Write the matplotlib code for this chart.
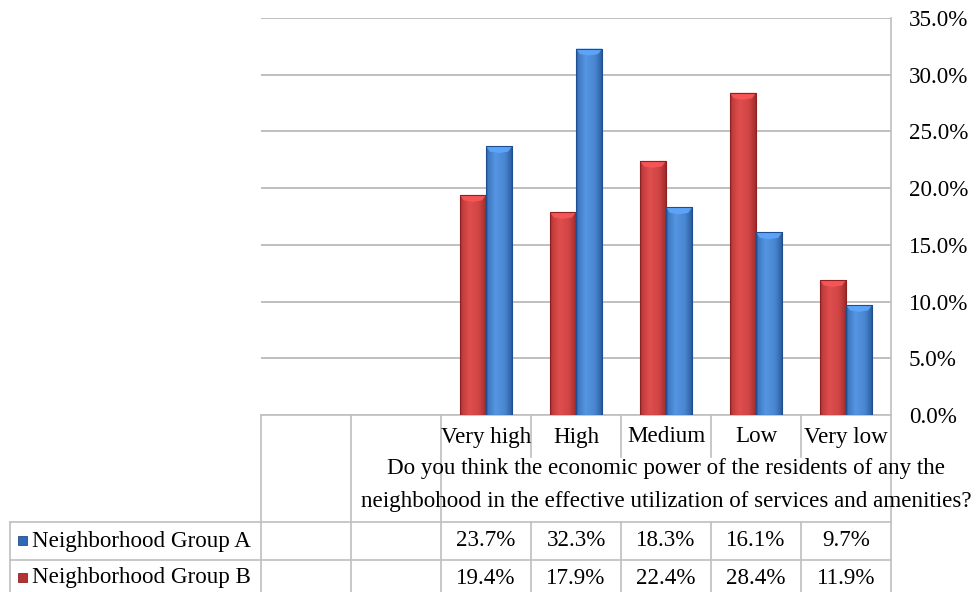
import numpy as np
import matplotlib
matplotlib.use("Agg")
import matplotlib.pyplot as plt
from matplotlib.transforms import blended_transform_factory
from matplotlib.patches import Polygon, Rectangle
from matplotlib.colors import to_rgb

# ---------------- data ----------------
categories = ["", "", "Very high", "High", "Medium", "Low", "Very low"]
group_a = [None, None, 23.7, 32.3, 18.3, 16.1, 9.7]
group_b = [None, None, 19.4, 17.9, 22.4, 28.4, 11.9]
series_names = ["Neighborhood Group A", "Neighborhood Group B"]
axis_title = ("Do you think the economic power of the residents of any the\n"
              "neighbohood in the effective utilization of services and amenities?")
y_ticks = [0, 5, 10, 15, 20, 25, 30, 35]

# ---------------- style ----------------
FONT = "Liberation Serif"
FS = 16.6
GRID = "#BFBFBF"
BLUE = ("#1F4E8E", "#5595E2", "#2F69B5")   # edge, light, mid
RED = ("#8E2222", "#E04E4E", "#B53232")

W, H = 976, 592
fig = plt.figure(figsize=(W / 100, H / 100), dpi=100)

# plot area (pixel layout)
px_left, px_right, px_top, px_bottom = 261, 891, 18, 415
ax = fig.add_axes([px_left / W, 1 - px_bottom / H,
                   (px_right - px_left) / W, (px_bottom - px_top) / H])
n = len(categories)
ax.set_xlim(0, n)
ax.set_ylim(0, 35)
for s in ["left", "top", "bottom"]:
    ax.spines[s].set_visible(False)
ax.spines["right"].set_color(GRID)
ax.spines["right"].set_linewidth(1.2)
ax.set_xticks([])
ax.yaxis.tick_right()
ax.set_yticks(y_ticks)
ax.set_yticklabels([f"{v:.1f}%" for v in y_ticks], fontfamily=FONT, fontsize=FS)
ax.tick_params(axis="y", length=0, pad=13)
ax.grid(axis="y", color=GRID, linewidth=1.4)
ax.set_axisbelow(True)

bw = 0.29


def gradient_bar(x0, h, cols):
    edge, light, mid = [np.array(to_rgb(c)) for c in cols]
    bars = ax.bar(x0, h, width=bw, align="edge", color=mid, edgecolor="none", zorder=3)
    patch = bars[0]
    # horizontal cylinder profile
    t = np.linspace(0, 1, 64)
    prof = np.interp(t, [0, 0.08, 0.35, 0.7, 0.92, 1.0], [0.15, 0.6, 1.0, 0.8, 0.35, 0.0])
    img = edge[None, :] + (light - edge)[None, :] * prof[:, None]
    img = img[None, :, :]
    im = ax.imshow(img, extent=[x0, x0 + bw, 0, h], aspect="auto",
                   interpolation="bilinear", zorder=4)
    im.set_clip_path(patch)
    # top bevel highlight
    d = 0.6
    top = Polygon([[x0, h], [x0 + bw, h], [x0 + bw * 0.85, h - d * 0.8],
                   [x0 + bw * 0.5, h - d], [x0 + bw * 0.15, h - d * 0.8]],
                  closed=True, facecolor=np.clip(light * 1.12, 0, 1),
                  edgecolor="none", alpha=0.9, zorder=5)
    ax.add_patch(top)
    ax.add_patch(Rectangle((x0, 0), bw, h, fill=False, edgecolor=edge,
                           linewidth=0.8, zorder=6))


for i in range(n):
    if group_b[i] is not None:
        gradient_bar(i + 0.5 - bw, group_b[i], RED)
    if group_a[i] is not None:
        gradient_bar(i + 0.5, group_a[i], BLUE)

# ---------------- data table ----------------
tab = fig.add_axes([0, 0, 1, 1], zorder=-1)
tab.set_xlim(0, W)
tab.set_ylim(H, 0)
tab.axis("off")
bt = blended_transform_factory(ax.transData, tab.transData)

y_cat_top, y_cat_bot = 415, 457
y_title_bot = 522
y_rowA_bot = 560
y_rowB_bot = 598
lw = 1.2

# horizontal lines
tab.plot([0, n], [y_cat_top, y_cat_top], color=GRID, lw=lw, transform=bt)
tab.plot([10, px_right], [y_title_bot, y_title_bot], color=GRID, lw=lw)
tab.plot([10, px_right], [y_rowA_bot, y_rowA_bot], color=GRID, lw=lw)
tab.plot([10, 10], [y_title_bot, y_rowB_bot], color=GRID, lw=lw)
# vertical lines
first_cat = next(i for i, c in enumerate(categories) if c)
for k in range(n + 1):
    if k <= first_cat or k == n:
        tab.plot([k, k], [y_cat_top, y_rowB_bot], color=GRID, lw=lw, transform=bt)
    else:
        tab.plot([k, k], [y_cat_top, y_cat_bot], color=GRID, lw=lw, transform=bt)
        tab.plot([k, k], [y_title_bot, y_rowB_bot], color=GRID, lw=lw, transform=bt)

for i, c in enumerate(categories):
    tab.text(i + 0.5, 437, c, transform=bt,
             ha="center", va="center", fontfamily=FONT, fontsize=FS)

tab.text((first_cat + n) / 2, 485, axis_title,
         transform=bt, ha="center", va="center", fontfamily=FONT, fontsize=FS,
         linespacing=1.7)

rows = [(group_a, series_names[0], BLUE, 541),
        (group_b, series_names[1], RED, 578)]
for vals, name, cols, yc in rows:
    tab.add_patch(Rectangle((18, yc - 5), 9, 9, facecolor=cols[2],
                            edgecolor=cols[0], lw=0.6))
    tab.text(32, yc, name, ha="left", va="center", fontfamily=FONT, fontsize=FS)
    for i, v in enumerate(vals):
        if v is not None:
            tab.text(i + 0.5, yc, f"{v:.1f}%", transform=bt, ha="center",
                     va="center", fontfamily=FONT, fontsize=FS)

fig.savefig("out.png", dpi=100)
